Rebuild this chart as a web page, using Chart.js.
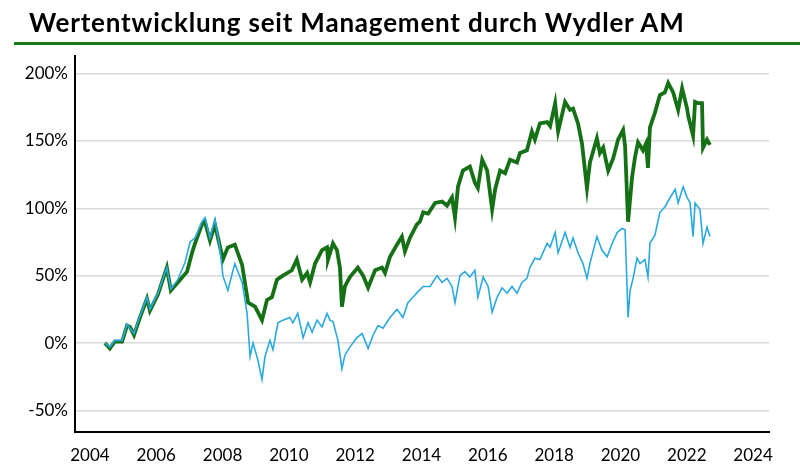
<!DOCTYPE html>
<html>
<head>
<meta charset="utf-8">
<script src="https://cdn.jsdelivr.net/npm/chart.js@4.4.1/dist/chart.umd.min.js"></script>
<style>
  html, body { margin: 0; padding: 0; background: #fff; }
  #wrap { position: relative; width: 800px; height: 473px; overflow: hidden; }
  #title { position: absolute; left: 29px; top: 7px; margin: 0; font-family: Lato, sans-serif; font-weight: 700; font-size: 26px; line-height: 1.2; color: #000; white-space: nowrap; letter-spacing: 0.8px; }
  #rule { position: absolute; left: 14px; right: 0; top: 42px; height: 3px; background: #1a7a1a; }
  #c { position: absolute; left: 0; top: 0; }
</style>
</head>
<body>
<div id="wrap">
  <canvas id="c" width="800" height="473"></canvas>
  <h1 id="title">Wertentwicklung seit Management durch Wydler AM</h1>
  <div id="rule"></div>
</div>
<script>
// Decimal years and performance (%)
const greenYears = [2004.45,2004.60,2004.75,2004.97,2005.12,2005.21,2005.33,2005.51,2005.72,2005.81,2006.05,2006.32,2006.44,2006.65,2006.93,2007.08,2007.17,2007.38,2007.47,2007.62,2007.77,2008.01,2008.16,2008.37,2008.59,2008.77,2008.98,2009.19,2009.34,2009.49,2009.64,2009.82,2010.09,2010.24,2010.40,2010.55,2010.64,2010.79,2011.00,2011.15,2011.18,2011.33,2011.45,2011.54,2011.60,2011.69,2011.84,2012.08,2012.24,2012.39,2012.60,2012.81,2012.90,2013.05,2013.26,2013.41,2013.50,2013.65,2013.86,2013.95,2014.05,2014.20,2014.41,2014.62,2014.77,2014.92,2015.01,2015.10,2015.25,2015.46,2015.61,2015.70,2015.83,2015.98,2016.13,2016.22,2016.37,2016.52,2016.67,2016.88,2016.97,2017.18,2017.33,2017.42,2017.57,2017.79,2017.88,2018.03,2018.12,2018.33,2018.48,2018.57,2018.72,2018.84,2018.99,2019.08,2019.29,2019.38,2019.48,2019.63,2019.78,2019.93,2020.08,2020.14,2020.23,2020.35,2020.44,2020.53,2020.68,2020.77,2020.83,2020.89,2021.04,2021.19,2021.34,2021.44,2021.59,2021.74,2021.86,2022.01,2022.04,2022.19,2022.25,2022.34,2022.46,2022.49,2022.61,2022.70];
const greenValues = [0,-4,1,1,13,12,6,19,33,24,36,56,39,45,53,67,74,88,90,76,88,62,71,73,58,30,27,17,32,34,47,50,54,62,47,52,45,59,69,71,62,74,69,56,27,42,49,56,50,41,54,56,52,64,73,79,68,78,88,90,97,96,104,105,102,108,93,116,128,131,119,115,136,128,99,114,128,126,136,134,141,143,157,151,163,164,161,178,157,179,173,174,163,148,115,134,152,141,145,128,137,151,158,146,90,123,138,149,143,148,130,160,171,184,186,193,186,173,189,174,169,154,179,178,178,145,151,147];

const blueYears = [2004.45,2004.60,2004.75,2004.97,2005.12,2005.33,2005.51,2005.72,2005.81,2006.05,2006.32,2006.44,2006.65,2006.87,2007.02,2007.17,2007.38,2007.47,2007.62,2007.77,2007.92,2008.01,2008.16,2008.37,2008.59,2008.74,2008.83,2008.92,2009.07,2009.19,2009.28,2009.43,2009.52,2009.67,2009.82,2010.03,2010.12,2010.27,2010.43,2010.58,2010.70,2010.85,2011.00,2011.15,2011.24,2011.33,2011.48,2011.60,2011.69,2011.84,2012.05,2012.21,2012.39,2012.54,2012.69,2012.84,2013.05,2013.26,2013.44,2013.59,2013.74,2013.89,2014.05,2014.26,2014.47,2014.62,2014.77,2014.92,2015.01,2015.16,2015.31,2015.46,2015.61,2015.70,2015.86,2016.01,2016.13,2016.28,2016.43,2016.58,2016.73,2016.88,2017.03,2017.18,2017.27,2017.42,2017.57,2017.79,2017.88,2018.03,2018.12,2018.33,2018.48,2018.57,2018.72,2018.87,2018.99,2019.08,2019.29,2019.44,2019.60,2019.75,2019.90,2020.05,2020.14,2020.23,2020.29,2020.38,2020.50,2020.59,2020.74,2020.83,2020.89,2021.04,2021.19,2021.34,2021.50,2021.65,2021.74,2021.89,2022.01,2022.10,2022.19,2022.25,2022.40,2022.49,2022.61,2022.70];
const blueValues = [0,-3,2,2,14,7,20,34,25,37,56,40,47,60,75,78,90,93,78,92,70,50,39,59,45,22,-10,0,-13,-27,-10,2,-5,15,17,19,15,22,4,15,8,17,12,22,17,16,2,-19,-9,-3,4,7,-4,6,13,11,19,25,19,30,34,38,42,42,50,45,48,42,30,50,53,49,54,34,49,42,23,34,41,37,42,37,45,48,56,63,62,74,71,82,67,82,71,78,67,59,48,59,79,69,64,74,82,85,84,19,39,48,63,59,62,49,74,80,97,101,108,114,104,116,108,104,79,104,99,74,86,79];

const yearTicks = [2004,2006,2008,2010,2012,2014,2016,2018,2020,2022,2024];
const pctTicks = [-50,0,50,100,150,200];

const toPoints = (xs, ys) => xs.map((x, i) => ({ x: x, y: ys[i] }));

new Chart(document.getElementById('c'), {
  type: 'line',
  data: {
    datasets: [
      {
        label: 'Benchmark',
        data: toPoints(blueYears, blueValues),
        borderColor: '#2aa9e0',
        borderWidth: 1.6,
        pointRadius: 0,
        tension: 0,
        fill: false
      },
      {
        label: 'Wydler AM',
        data: toPoints(greenYears, greenValues),
        borderColor: '#167116',
        borderWidth: 3.8,
        pointRadius: 0,
        tension: 0,
        fill: false
      }
    ]
  },
  options: {
    responsive: false,
    animation: false,
    layout: { padding: { top: 56, right: 31, left: 0, bottom: 0 } },
    plugins: { legend: { display: false }, tooltip: { enabled: false } },
    scales: {
      x: {
        type: 'linear',
        min: 2003.55,
        max: 2024.48,
        afterBuildTicks: s => { s.ticks = yearTicks.map(v => ({ value: v })); },
        afterFit: s => { s.height = 41; },
        grid: { display: false, drawTicks: false },
        border: { display: true, color: '#000', width: 2 },
        ticks: {
          padding: 13,
          color: '#000',
          font: { family: 'Lato', size: 17 },
          maxRotation: 0,
          autoSkip: false,
          callback: v => String(v)
        }
      },
      y: {
        type: 'linear',
        min: -66,
        max: 213,
        afterBuildTicks: s => { s.ticks = pctTicks.map(v => ({ value: v })); },
        afterFit: s => { s.width = 75; },
        grid: { color: '#d9d9d9', lineWidth: 1.5, drawTicks: false },
        border: { display: true, color: '#000', width: 2 },
        ticks: {
          padding: 7,
          color: '#000',
          font: { family: 'Lato', size: 17 },
          callback: v => v + '%'
        }
      }
    }
  }
});
</script>
</body>
</html>
